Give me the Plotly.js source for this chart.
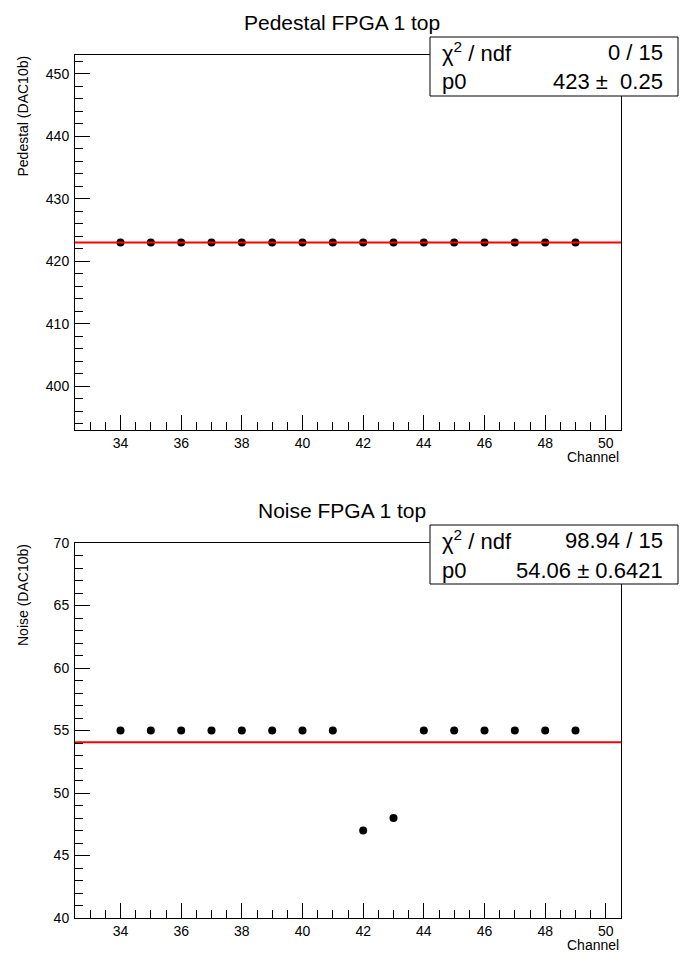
<!DOCTYPE html>
<html><head><meta charset="utf-8">
<script src="https://cdn.plot.ly/plotly-3.0.1.min.js"></script>
<style>html,body{margin:0;padding:0;background:#fff}</style>
</head><body>
<div id="chart" style="width:698px;height:976px"></div>
<script>
const channels = [34,35,36,37,38,39,40,41,42,43,44,45,46,47,48,49];
const pedestal = [423,423,423,423,423,423,423,423,423,423,423,423,423,423,423,423];
const noise = [55,55,55,55,55,55,55,55,47,48,55,55,55,55,55,55];
const pedFit = 423;
const noiseFit = 54.06;
const xRange = [32.5, 50.5];
const pedStats = {chi: "0 / 15", p0: "423 \u00b1\u00a0\u00a00.25"};
const noiseStats = {chi: "98.94 / 15", p0: "54.06\u00a0\u00b1\u00a00.6421"};
const titles = ["Pedestal FPGA 1 top", "Noise FPGA 1 top"];
const yTitles = ["Pedestal (DAC10b)", "Noise (DAC10b)"];
const xTitle = "Channel";

const FONT = "Liberation Sans, Arial, Helvetica, sans-serif";
const W = 698, H = 976;
const px = x => x / W;
const py = y => 1 - y / H;

const marker = {symbol: 'circle', size: 8, color: '#000'};
const traces = [
  {x: channels, y: pedestal, mode: 'markers', marker, xaxis: 'x', yaxis: 'y'},
  {x: xRange, y: [pedFit, pedFit], mode: 'lines', line: {color: '#ff0000', width: 2}, xaxis: 'x', yaxis: 'y'},
  {x: channels, y: noise, mode: 'markers', marker, xaxis: 'x2', yaxis: 'y2'},
  {x: xRange, y: [noiseFit, noiseFit], mode: 'lines', line: {color: '#ff0000', width: 2}, xaxis: 'x2', yaxis: 'y2'}
];

function xax(anchor, dom) {
  return {domain: dom, anchor, range: xRange, tickmode: 'linear', tick0: 34, dtick: 2,
    ticks: 'inside', ticklen: 15, tickwidth: 1, tickcolor: '#000',
    minor: {dtick: 0.5, tick0: 34, ticks: 'inside', ticklen: 8, tickcolor: '#000', tickwidth: 1, showgrid: false},
    showline: true, linecolor: '#000', linewidth: 1, mirror: true, showgrid: false, zeroline: false,
    tickfont: {family: FONT, size: 14, color: '#000'}, ticklabelstandoff: 0};
}
function yax(anchor, dom, range, dtick, mdt) {
  return {domain: dom, anchor, range, tickmode: 'linear', tick0: 0, dtick,
    ticks: 'inside', ticklen: 15, tickwidth: 1, tickcolor: '#000',
    minor: {dtick: mdt, tick0: 0, ticks: 'inside', ticklen: 8, tickcolor: '#000', tickwidth: 1, showgrid: false},
    showline: true, linecolor: '#000', linewidth: 1, mirror: true, showgrid: false, zeroline: false,
    tickfont: {family: FONT, size: 14, color: '#000'}, ticklabelstandoff: 2};
}

const xd = [px(75), px(621)];
const layout = {
  width: W, height: H, margin: {l: 0, r: 0, t: 0, b: 0},
  paper_bgcolor: '#fff', plot_bgcolor: '#fff', showlegend: false,
  xaxis: xax('y', xd),
  yaxis: yax('x', [py(430), py(55)], [393, 453], 10, 2),
  xaxis2: xax('y2', xd),
  yaxis2: yax('x2', [py(918), py(543)], [40, 70], 5, 1),
  shapes: [
    {type: 'rect', xref: 'paper', yref: 'paper', x0: px(430), x1: px(678), y0: py(96), y1: py(37), line: {color: '#000', width: 1}, fillcolor: '#fff', layer: 'above'},
    {type: 'rect', xref: 'paper', yref: 'paper', x0: px(430), x1: px(678), y0: py(584), y1: py(525), line: {color: '#000', width: 1}, fillcolor: '#fff', layer: 'above'}
  ],
  annotations: []
};
const ann = (x, y, text, size, xanchor, extra) => Object.assign({xref: 'paper', yref: 'paper', x: px(x), y: py(y), text, showarrow: false, xanchor, yanchor: 'middle', font: {family: FONT, size, color: '#000'}}, extra || {});
const A = layout.annotations;
[[0, 457], [488, 945]].forEach((c, i) => {
  const off = c[0];
  const st = i === 0 ? pedStats : noiseStats;
  A.push(ann(342, 22 + off, titles[i], 21, 'center'));
  A.push(ann(621, c[1], xTitle, 14, 'right'));
  A.push(ann(23, 54 + off, yTitles[i], 14, 'center', {textangle: -90, yanchor: 'top'}));
  A.push(ann(440, 52 + off, 'χ<sup>2</sup> / ndf', 22, 'left'));
  A.push(ann(665, 52 + off, st.chi, 22, 'right'));
  A.push(ann(440, 82 + off, 'p0', 22, 'left'));
  A.push(ann(665, 82 + off, st.p0, 22, 'right'));
});
Plotly.newPlot('chart', traces, layout, {staticPlot: true});
</script>
</body></html>
